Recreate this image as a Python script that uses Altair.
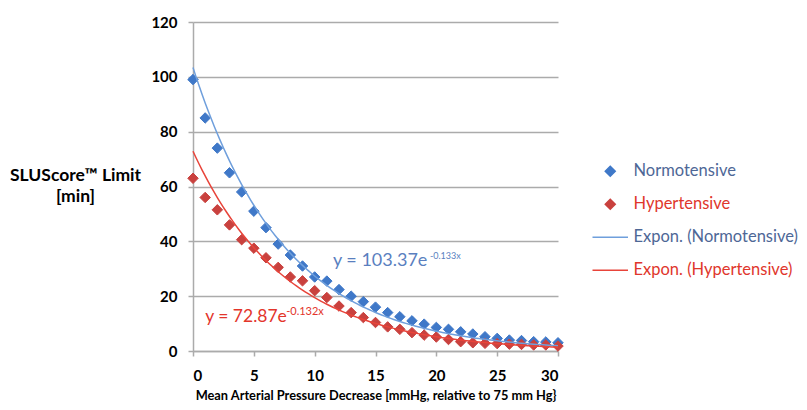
import altair as alt
import pandas as pd

# ---- data ----
x_vals = list(range(31))
normotensive = [99, 85, 74, 65, 58, 51, 45, 39, 35, 31, 27, 25.5, 22.4, 20, 18, 16, 14,
                12.5, 11, 9.8, 8.6, 7.9, 7, 6.2, 5.2, 4.6, 4, 3.8, 3.4, 3.3, 3]
hypertensive = [63, 56, 51.5, 46, 40.6, 37.5, 34, 30.5, 27, 25.6, 22, 19.5, 16.4, 14, 12.2,
                10.4, 8.8, 7.9, 6.7, 5.8, 5.1, 4.2, 3.4, 3, 2.8, 2.7, 2.5, 2.4, 2.2, 2.2, 1.8]

series_names = ["Normotensive", "Hypertensive", "Expon. (Normotensive)", "Expon. (Hypertensive)"]
series_colors = ["#3f78c8", "#c9413e", "#6f9fdc", "#e8443a"]
LINE_PATH = "M-3.55,0L3.55,0"
legend_shapes = ["diamond", "diamond", LINE_PATH, LINE_PATH]

fit_a = [103.37, 72.87]
fit_b = [0.133, 0.132]
fit_colors = ["#6f9fdc", "#e8443a"]

eq_main = ["y = 103.37e", "y = 72.87e"]
eq_sup = ["-0.133x", "-0.132x"]
eq_x = [11.5, 1.0]
eq_y = [33, 12.5]
eq_colors = ["#5a7fbf", "#e3352b"]
eq_main_size = [18, 17.5]
eq_sup_size = [9, 11]
eq_sup_dx = [97, 81]

x_ticks = [0, 5, 10, 15, 20, 25, 30]
y_ticks = [0, 20, 40, 60, 80, 100, 120]

x_title = "Mean Arterial Pressure Decrease [mmHg, relative to 75 mm Hg}"
y_title = ["SLUScore\u2122 Limit", "[min]"]

FONT = "Lato"
GRID = "#ababab"

df = pd.DataFrame({
    "x": x_vals * 2,
    "y": normotensive + hypertensive,
    "series": ["Normotensive"] * len(x_vals) + ["Hypertensive"] * len(x_vals),
})

legend = alt.Legend(
    title=None, orient="none", legendX=409, legendY=141, padding=0,
    labelFont=FONT, labelFontSize=16.5, labelOffset=15, labelLimit=300,
    labelColor=alt.ExprRef(expr="indexof(datum.label, 'Normo') >= 0 ? '#4e6796' : '#e0362c'"),
    symbolStrokeWidth=1.5, rowPadding=16,
)

xs = alt.X("x:Q", scale=alt.Scale(domain=[0, 30], nice=False),
           axis=alt.Axis(values=x_ticks, title=x_title, grid=False,
                         labelFont=FONT, labelFontSize=15, labelFontWeight="bold", labelColor="#000",
                         labelPadding=12, tickSize=5, tickColor=GRID, tickWidth=1.5,
                         domainColor=GRID, domainWidth=1.5,
                         titleFont=FONT, titleFontSize=12.8, titleFontWeight="bold", titleColor="#000",
                         titleBaseline="alphabetic", titleY=48))
ys = alt.Y("y:Q", scale=alt.Scale(domain=[0, 120], nice=False),
           axis=alt.Axis(values=y_ticks, title=y_title, grid=True, gridColor=GRID, gridWidth=1.5,
                         labelFont=FONT, labelFontSize=15, labelFontWeight="bold", labelColor="#000",
                         labelPadding=11, tickSize=5, tickColor=GRID, tickWidth=1.5,
                         domainColor=GRID, domainWidth=1.5,
                         titleFont=FONT, titleFontSize=17.5, titleFontWeight="bold", titleColor="#000",
                         titleAngle=0, titleAlign="center", titleBaseline="alphabetic",
                         titleX=-118, titleY=158, titleLineHeight=21))

points = alt.Chart(df).mark_point(filled=True, opacity=1, strokeWidth=1, size=110).encode(
    x=xs, y=ys,
    color=alt.Color("series:N", scale=alt.Scale(domain=series_names, range=series_colors), legend=legend),
    stroke=alt.Stroke("series:N", scale=alt.Scale(domain=series_names, range=series_colors), legend=legend),
    shape=alt.Shape("series:N", scale=alt.Scale(domain=series_names, range=legend_shapes), legend=legend),
)

layers = [points]
for a, b, c in zip(fit_a, fit_b, fit_colors):
    line = alt.Chart(alt.sequence(0, 30.05, 0.25, as_="x")).transform_calculate(
        y=f"{a} * exp(-{b} * datum.x)"
    ).mark_line(color=c, strokeWidth=1.5).encode(x="x:Q", y="y:Q")
    layers.append(line)

eq_df = pd.DataFrame({"x": eq_x, "y": eq_y, "main": eq_main, "sup": eq_sup, "c": eq_colors})
for i in range(len(eq_df)):
    sub = eq_df.iloc[[i]]
    layers.append(alt.Chart(sub).mark_text(align="left", baseline="middle", font=FONT,
                                           fontSize=eq_main_size[i]).encode(
        x="x:Q", y="y:Q", text="main:N", color=alt.Color("c:N", scale=None)))
    layers.append(alt.Chart(sub).mark_text(align="left", baseline="middle", font=FONT,
                                           fontSize=eq_sup_size[i], dx=eq_sup_dx[i], dy=-5).encode(
        x="x:Q", y="y:Q", text="sup:N", color=alt.Color("c:N", scale=None)))

chart = alt.layer(*layers).properties(
    width=365, height=329,
    autosize=alt.AutoSizeParams(type="none"),
    padding={"left": 185, "top": 14, "right": 241, "bottom": 51},
).configure_view(stroke=None)

chart.save("out.html", embed_options={"renderer": "svg", "actions": False})
